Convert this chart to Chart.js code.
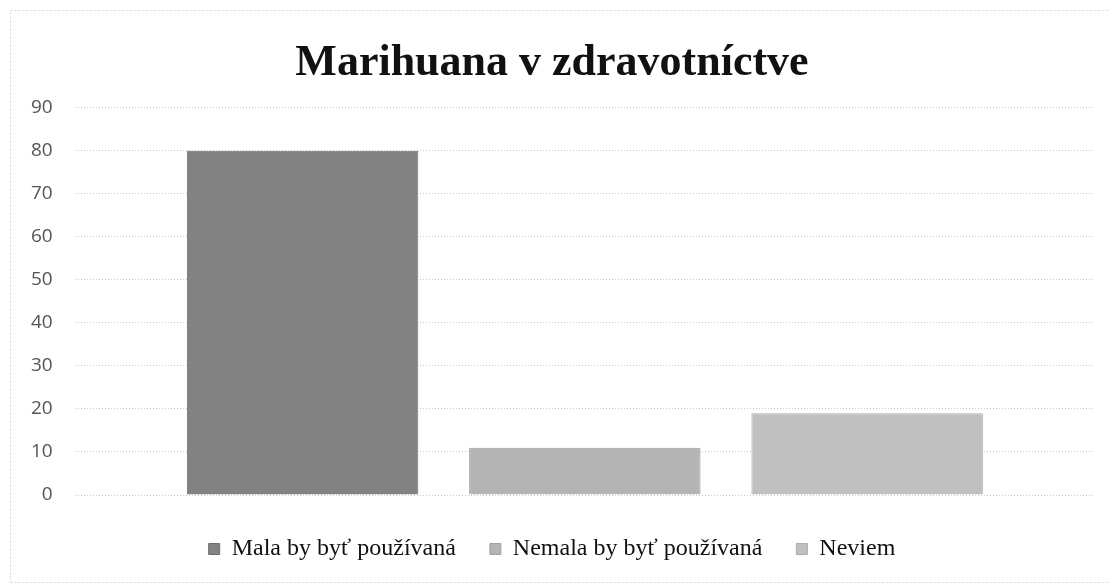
<!DOCTYPE html>
<html>
<head>
<meta charset="utf-8">
<script src="https://cdn.jsdelivr.net/npm/chart.js@4"></script>
<style>
  html, body { margin: 0; padding: 0; background: #fff; }
  #wrap { width: 1113px; height: 585px; }
</style>
</head>
<body>
<div id="wrap"><canvas id="chart" width="1113" height="585"></canvas></div>
<script>
// Chart data
const chartTitle = 'Marihuana v zdravotníctve';
const seriesNames = ['Mala by byť používaná', 'Nemala by byť používaná', 'Neviem'];
const seriesValues = [80, 11, 19];
const seriesColors = ['#828282', '#b4b4b4', '#c0c0c0'];
const seriesEdges = ['#6e6e6e', '#a2a2a2', '#acacac'];
const yTicks = { min: 0, max: 90, step: 10 };

// faint scanned page border
const pageBorder = {
    id: 'pageBorder',
    beforeDraw(chart) {
        const c = chart.ctx;
        c.save();
        c.fillStyle = '#fff';
        c.fillRect(0, 0, chart.width, chart.height);
        c.strokeStyle = '#d6d6d6';
        c.lineWidth = 1;
        c.setLineDash([2, 2]);
        c.beginPath();
        c.moveTo(10.5, 582.5);
        c.lineTo(10.5, 10.5);
        c.lineTo(chart.width - 4, 10.5);
        c.moveTo(10.5, 582.5);
        c.lineTo(chart.width - 4, 582.5);
        c.stroke();
        c.restore();
    }
};

const datasets = seriesNames.map((name, i) => ({
    label: name,
    data: [seriesValues[i]],
    backgroundColor: seriesColors[i],
    borderColor: seriesEdges[i],
    borderWidth: 1,
    categoryPercentage: 0.83,
    barPercentage: 0.82
}));

new Chart(document.getElementById('chart').getContext('2d'), {
    type: 'bar',
    data: { labels: [''], datasets: datasets },
    options: {
        responsive: false,
        animation: false,
        layout: { padding: { top: 18, left: 9, right: 18, bottom: 14 } },
        plugins: {
            title: {
                display: true,
                text: chartTitle,
                color: '#111',
                font: { family: '"Liberation Serif", "Times New Roman", serif', size: 44, weight: 'bold' },
                padding: { top: 19, bottom: 18 }
            },
            legend: {
                position: 'bottom',
                labels: {
                    color: '#111',
                    font: { family: '"Liberation Serif", "Times New Roman", serif', size: 24 },
                    boxWidth: 11,
                    boxHeight: 11,
                    padding: 34
                }
            },
            tooltip: { enabled: false }
        },
        scales: {
            x: {
                grid: { display: false },
                border: { display: false },
                ticks: { display: false }
            },
            y: {
                min: yTicks.min,
                max: yTicks.max,
                ticks: {
                    stepSize: yTicks.step,
                    color: '#555',
                    padding: 22,
                    font: { family: '"Open Sans", sans-serif', size: 19 }
                },
                grid: {
                    color: '#c8c8c8',
                    drawTicks: false
                },
                border: { display: false, dash: [1, 2] }
            }
        }
    },
    plugins: [pageBorder]
});
</script>
</body>
</html>
